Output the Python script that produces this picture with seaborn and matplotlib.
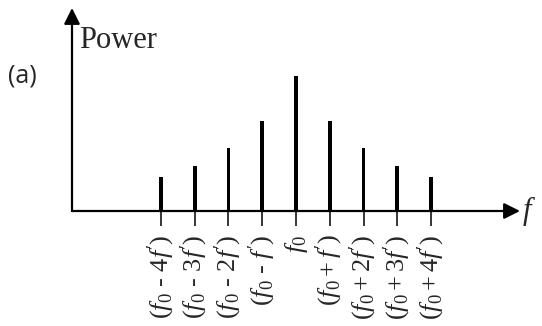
import matplotlib
matplotlib.use("Agg")
import matplotlib.pyplot as plt
import seaborn as sns
import pandas as pd

labels = [r"$(f_0$ - $4f')$", r"$(f_0$ - $3f')$", r"$(f_0$ - $2f')$", r"$(f_0$ - $f')$",
          r"$f_0$",
          r"$(f_0 + f')$", r"$(f_0 + 2f')$", r"$(f_0 + 3f')$", r"$(f_0 + 4f')$"]
power = [34, 45, 63, 90, 135, 90, 63, 45, 34]

sns.set_theme(style="white")
plt.rcParams["font.family"] = ["Liberation Serif", "DejaVu Serif"]
plt.rcParams["mathtext.fontset"] = "custom"
plt.rcParams["mathtext.rm"] = "Liberation Serif"
plt.rcParams["mathtext.it"] = "Liberation Serif:italic"

df = pd.DataFrame({"label": labels, "power": power})

W, H = 542, 326
fig = plt.figure(figsize=(W / 100, H / 100), dpi=100)
ax = fig.add_axes([72 / W, 115 / H, 448 / W, 203 / H])

sns.barplot(data=df, x="label", y="power", color="black", width=0.11,
            linewidth=0, saturation=1, ax=ax, order=labels)

ax.set_xlim(-2.637, 10.637)
ax.set_ylim(0, 203)
for s in ax.spines.values():
    s.set_visible(False)
ax.set_xlabel("")
ax.set_ylabel("")
ax.set_yticks([])
ax.tick_params(axis="x", direction="out", length=11, width=1.1, color="black",
               pad=6, labelsize=19, rotation=90, bottom=True)
for t in ax.get_xticklabels():
    t.set_va("top")
    t.set_ha("center")
    t.set_fontsize(19)

arrow = dict(arrowstyle="-|>", color="black", lw=1.6, mutation_scale=24, shrinkA=0, shrinkB=0)
ax.annotate("", xy=(1, 0), xytext=(0, 0), xycoords="axes fraction",
            textcoords="axes fraction", arrowprops=arrow, annotation_clip=False)
ax.annotate("", xy=(0, 1), xytext=(0, 0), xycoords="axes fraction",
            textcoords="axes fraction", arrowprops=arrow, annotation_clip=False)

fig.text(79 / W, 1 - 48 / H, "Power", fontsize=22, va="baseline", ha="left",
         family=["Liberation Serif"])
fig.text(8 / W, 1 - 76 / H, "(a)", fontsize=18, va="center", ha="left",
         family=["Open Sans", "DejaVu Sans"])
fig.text(523 / W, 1 - 211 / H, "f", fontsize=22, va="center", ha="left",
         style="italic", family=["Liberation Serif"])

fig.savefig("out.png", dpi=100)
